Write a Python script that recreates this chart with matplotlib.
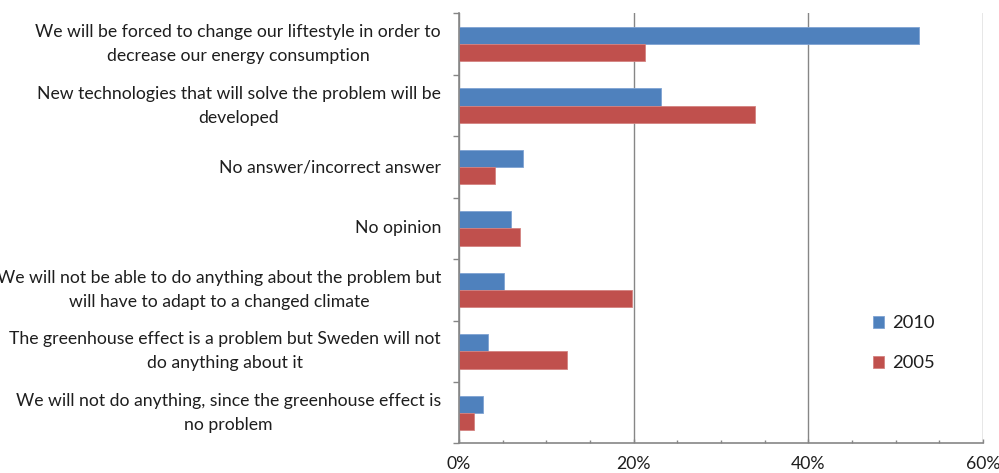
import matplotlib
matplotlib.use("Agg")
import matplotlib.pyplot as plt
from matplotlib.ticker import FixedLocator, FuncFormatter
import numpy as np

plt.rcParams['font.family'] = ['Lato', 'DejaVu Sans']

categories = [
    "We will be forced to change our liftestyle in order to\ndecrease our energy consumption",
    "New technologies that will solve the problem will be\ndeveloped",
    "No answer/incorrect answer",
    "No opinion",
    "We will not be able to do anything about the problem but\nwill have to adapt to a changed climate",
    "The greenhouse effect is a problem but Sweden will not\ndo anything about it",
    "We will not do anything, since the greenhouse effect is\nno problem",
]
values_2010 = [52.7, 23.1, 7.3, 5.9, 5.1, 3.35, 2.8]
values_2005 = [21.3, 33.9, 4.1, 7.0, 19.8, 12.4, 1.7]
series_labels = ["2010", "2005"]
x_ticks = [0, 20, 40, 60]

blue = "#4F81BD"
red = "#C0504D"
axis_grey = "#868686"
text_col = "#1e1e1e"

fig = plt.figure(figsize=(9.99, 4.73), dpi=100)
ax = fig.add_axes([0.4595, 0.0624, 0.984 - 0.4595, 0.9715 - 0.0624])

y = np.arange(len(categories))
h = 0.28
ax.barh(y - h / 2, values_2010, height=h, color=blue, edgecolor="#7fa3d3",
        linewidth=0.6, label=series_labels[0], zorder=3)
ax.barh(y + h / 2, values_2005, height=h, color=red, edgecolor="#d48280",
        linewidth=0.6, label=series_labels[1], zorder=3)

ax.set_ylim(len(categories) - 0.5, -0.5)
ax.set_xlim(0, 60)

# category labels at bar-pair centres, tick marks at the category boundaries
ax.set_yticks(y)
ax.set_yticklabels(categories, fontsize=12.7, color=text_col, va="center",
                   ha="right", multialignment="center", linespacing=1.62)
ax.tick_params(axis="y", which="major", length=0, pad=13)
ax.yaxis.set_minor_locator(FixedLocator(np.arange(-0.5, len(categories), 1.0)))
ax.tick_params(axis="y", which="minor", length=4.5, width=1.0,
               color=axis_grey, direction="out")

ax.set_xticks(x_ticks)
ax.xaxis.set_major_formatter(FuncFormatter(lambda v, p: f"{v:.0f}%"))
ax.xaxis.set_minor_locator(FixedLocator(np.arange(0, 61, 5)))
ax.tick_params(axis="x", which="major", length=3, width=1.0, color=axis_grey,
               direction="in", labelsize=12.7, labelcolor=text_col, pad=9)
ax.tick_params(axis="x", which="minor", length=2.5, width=1.0,
               color=axis_grey, direction="in")

ax.grid(axis="x", which="major", color=axis_grey, linewidth=1.0, zorder=0)
ax.set_axisbelow(True)
for side in ("top", "right"):
    ax.spines[side].set_visible(False)
for side in ("left", "bottom"):
    ax.spines[side].set_color(axis_grey)
    ax.spines[side].set_linewidth(1.2)
    ax.spines[side].set_zorder(4)

leg = ax.legend(loc="center left", bbox_to_anchor=(0.865, 0.274),
                bbox_transform=fig.transFigure, frameon=False,
                fontsize=13.2, handlelength=0.6, handleheight=0.6,
                handletextpad=0.4, labelspacing=1.3, borderpad=0)
for t in leg.get_texts():
    t.set_color(text_col)

fig.savefig("out.png", dpi=100)
